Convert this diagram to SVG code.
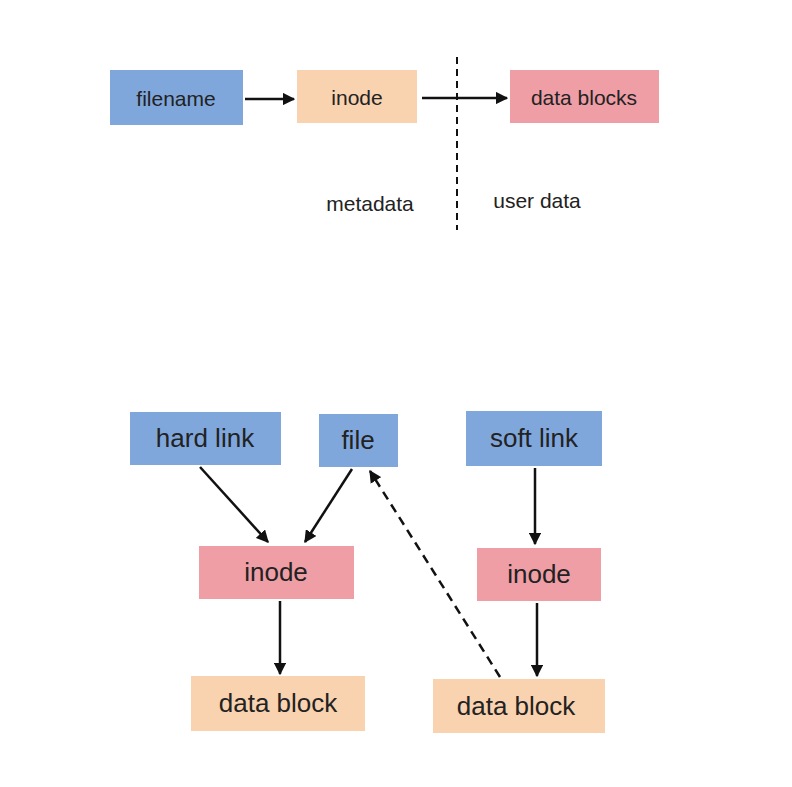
<svg xmlns="http://www.w3.org/2000/svg" width="792" height="787" viewBox="0 0 792 787">
<style>
text{font-family:"Liberation Sans",Arial,sans-serif;fill:#222;text-anchor:middle;dominant-baseline:central}
.s{font-size:21px}.b{font-size:26px}
.blue{fill:#80a7dc}.peach{fill:#f9d2b0}.pink{fill:#ef9ea6}
.c{stroke:#111;stroke-width:2.5;fill:none;marker-end:url(#ah)}
</style>
<defs><marker id="ah" viewBox="0 0 10 10" refX="9" refY="5" markerWidth="5" markerHeight="5" orient="auto"><path d="M0,0L10,5L0,10z" fill="#111"/></marker></defs>
<rect width="792" height="787" fill="#fff"/>
<g id="filename"><rect class="blue" x="110" y="70" width="133" height="55"/><text class="s" x="176" y="98">filename</text></g>
<g id="inode-top"><rect class="peach" x="297" y="70" width="120" height="53"/><text class="s" x="357" y="97">inode</text></g>
<g id="datablocks"><rect class="pink" x="510" y="70" width="149" height="53"/><text class="s" x="584" y="97">data blocks</text></g>
<text class="s" x="370" y="203">metadata</text>
<text class="s" x="537" y="200">user data</text>
<g id="hardlink"><rect class="blue" x="130" y="412" width="151" height="53"/><text class="b" x="205" y="438">hard link</text></g>
<g id="file"><rect class="blue" x="319" y="414" width="79" height="53"/><text class="b" x="358" y="440">file</text></g>
<g id="softlink"><rect class="blue" x="466" y="411" width="136" height="55"/><text class="b" x="534" y="438">soft link</text></g>
<g id="inode-l"><rect class="pink" x="199" y="546" width="155" height="53"/><text class="b" x="276" y="572">inode</text></g>
<g id="inode-r"><rect class="pink" x="477" y="548" width="124" height="53"/><text class="b" x="539" y="574">inode</text></g>
<g id="db-l"><rect class="peach" x="191" y="676" width="174" height="55"/><text class="b" x="278" y="703">data block</text></g>
<g id="db-r"><rect class="peach" x="433" y="679" width="172" height="54"/><text class="b" x="516" y="706">data block</text></g>
<g id="connectors">
<path class="c" d="M245,99H294"/>
<path class="c" d="M422,98H507"/>
<path d="M457,57V230" stroke="#111" stroke-width="2" stroke-dasharray="7,5"/>
<path class="c" d="M200,467L268,542"/>
<path class="c" d="M352,469L305,542"/>
<path class="c" d="M535,468V544"/>
<path class="c" d="M280,601V674"/>
<path class="c" d="M537,603V676"/>
<path class="c" d="M500,677L370,471" stroke-dasharray="9,6"/>
</g>
</svg>
